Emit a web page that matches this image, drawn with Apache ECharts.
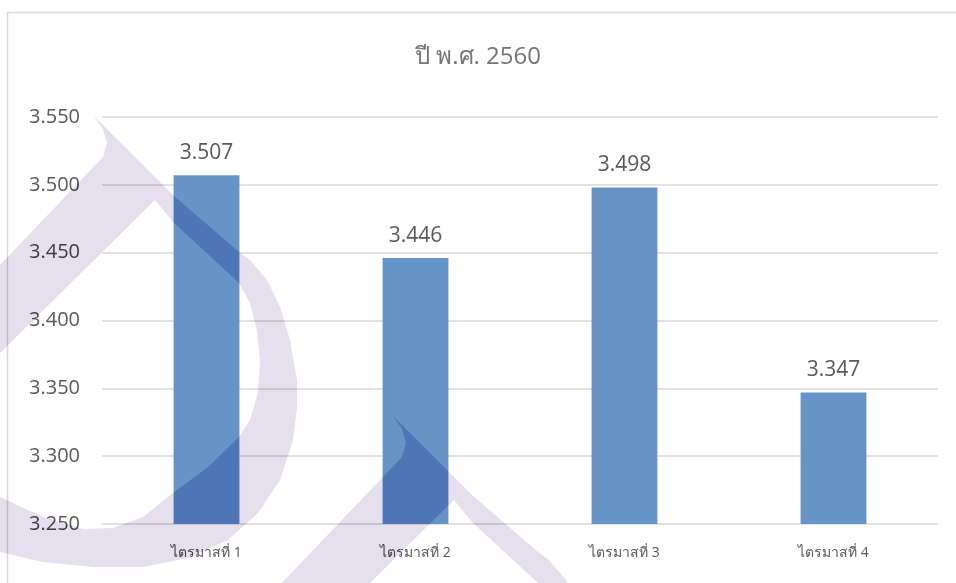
<!DOCTYPE html>
<html>
<head>
<meta charset="utf-8">
<script src="https://cdn.jsdelivr.net/npm/echarts@6/dist/echarts.min.js"></script>
<style>
  html, body { margin: 0; padding: 0; background: #fff; }
  #main { width: 956px; height: 583px; }
</style>
</head>
<body>
<div id="main"></div>
<script>
const titleText = 'ปี พ.ศ. 2560'
const categories = ['ไตรมาสที่ 1', 'ไตรมาสที่ 2', 'ไตรมาสที่ 3', 'ไตรมาสที่ 4']
const scores = [3.507, 3.446, 3.498, 3.347]
const yMin = 3.25
const yMax = 3.55
const yStep = 0.05

// watermark outline, relative to the tip of the drop
const dropShape = [
  [0, 0], [80, 80], [146, 137], [157, 145], [174, 165], [187, 192], [197, 225],
  [204, 265], [204, 292], [200, 325], [187, 365], [165, 398], [135, 425],
  [95, 443], [50, 452], [0, 452], [-50, 447], [-93, 437], [-130, 425],
  [-130, 375], [-93, 382], [-50, 402], [-10, 414], [20, 413], [50, 402],
  [80, 378], [115, 352], [146, 322], [157, 305], [165, 278], [167, 245],
  [164, 215], [157, 188], [146, 168], [80, 107], [62, 85], [-93, 238],
  [-140, 285], [-140, 199], [-93, 150], [10, 42], [14, 28], [10, 14]
]

const textFont = '"Open Sans", "Noto Sans", sans-serif'

let myChart = echarts.init(document.getElementById('main'))

let option = {
  backgroundColor: '#ffffff',
  animation: false,
  title: {
    text: titleText,
    left: 'center',
    top: 40,
    textStyle: {
      color: '#757575',
      fontSize: 24,
      fontWeight: 'normal',
      fontFamily: textFont
    }
  },
  grid: {
    left: 102,
    right: 18,
    top: 117,
    bottom: 59
  },
  xAxis: {
    type: 'category',
    data: categories,
    axisLine: { show: false },
    axisTick: { show: false },
    axisLabel: {
      color: '#595959',
      fontSize: 14,
      margin: 22,
      fontFamily: textFont
    }
  },
  yAxis: {
    type: 'value',
    min: yMin,
    max: yMax,
    interval: yStep,
    axisLine: { show: false },
    axisTick: { show: false },
    axisLabel: {
      color: '#595959',
      fontSize: 20,
      margin: 22,
      fontFamily: textFont,
      formatter: v => v.toFixed(3)
    },
    splitLine: {
      lineStyle: { color: '#d9d9d9', width: 1.5 }
    }
  },
  series: [
    {
      type: 'bar',
      data: scores,
      barWidth: '31.5%',
      itemStyle: { color: '#6794c7' },
      label: {
        show: true,
        position: 'top',
        distance: 12,
        color: '#595959',
        fontSize: 21,
        fontFamily: textFont,
        formatter: p => p.value.toFixed(3)
      }
    }
  ],
  graphic: [
    {
      type: 'rect',
      z: 0,
      silent: true,
      shape: { x: 7.5, y: 12.5, width: 1000, height: 700 },
      style: { fill: 'none', stroke: '#d9d9d9', lineWidth: 1.5 }
    },
    {
      type: 'polygon',
      z: 100,
      silent: true,
      x: 93,
      y: 115,
      shape: { points: dropShape },
      style: { fill: 'rgb(25,31,17)', blend: 'difference' }
    },
    {
      type: 'polygon',
      z: 100,
      silent: true,
      x: 392,
      y: 415,
      shape: { points: dropShape },
      style: { fill: 'rgb(25,31,17)', blend: 'difference' }
    }
  ]
}

myChart.setOption(option)
</script>
</body>
</html>
